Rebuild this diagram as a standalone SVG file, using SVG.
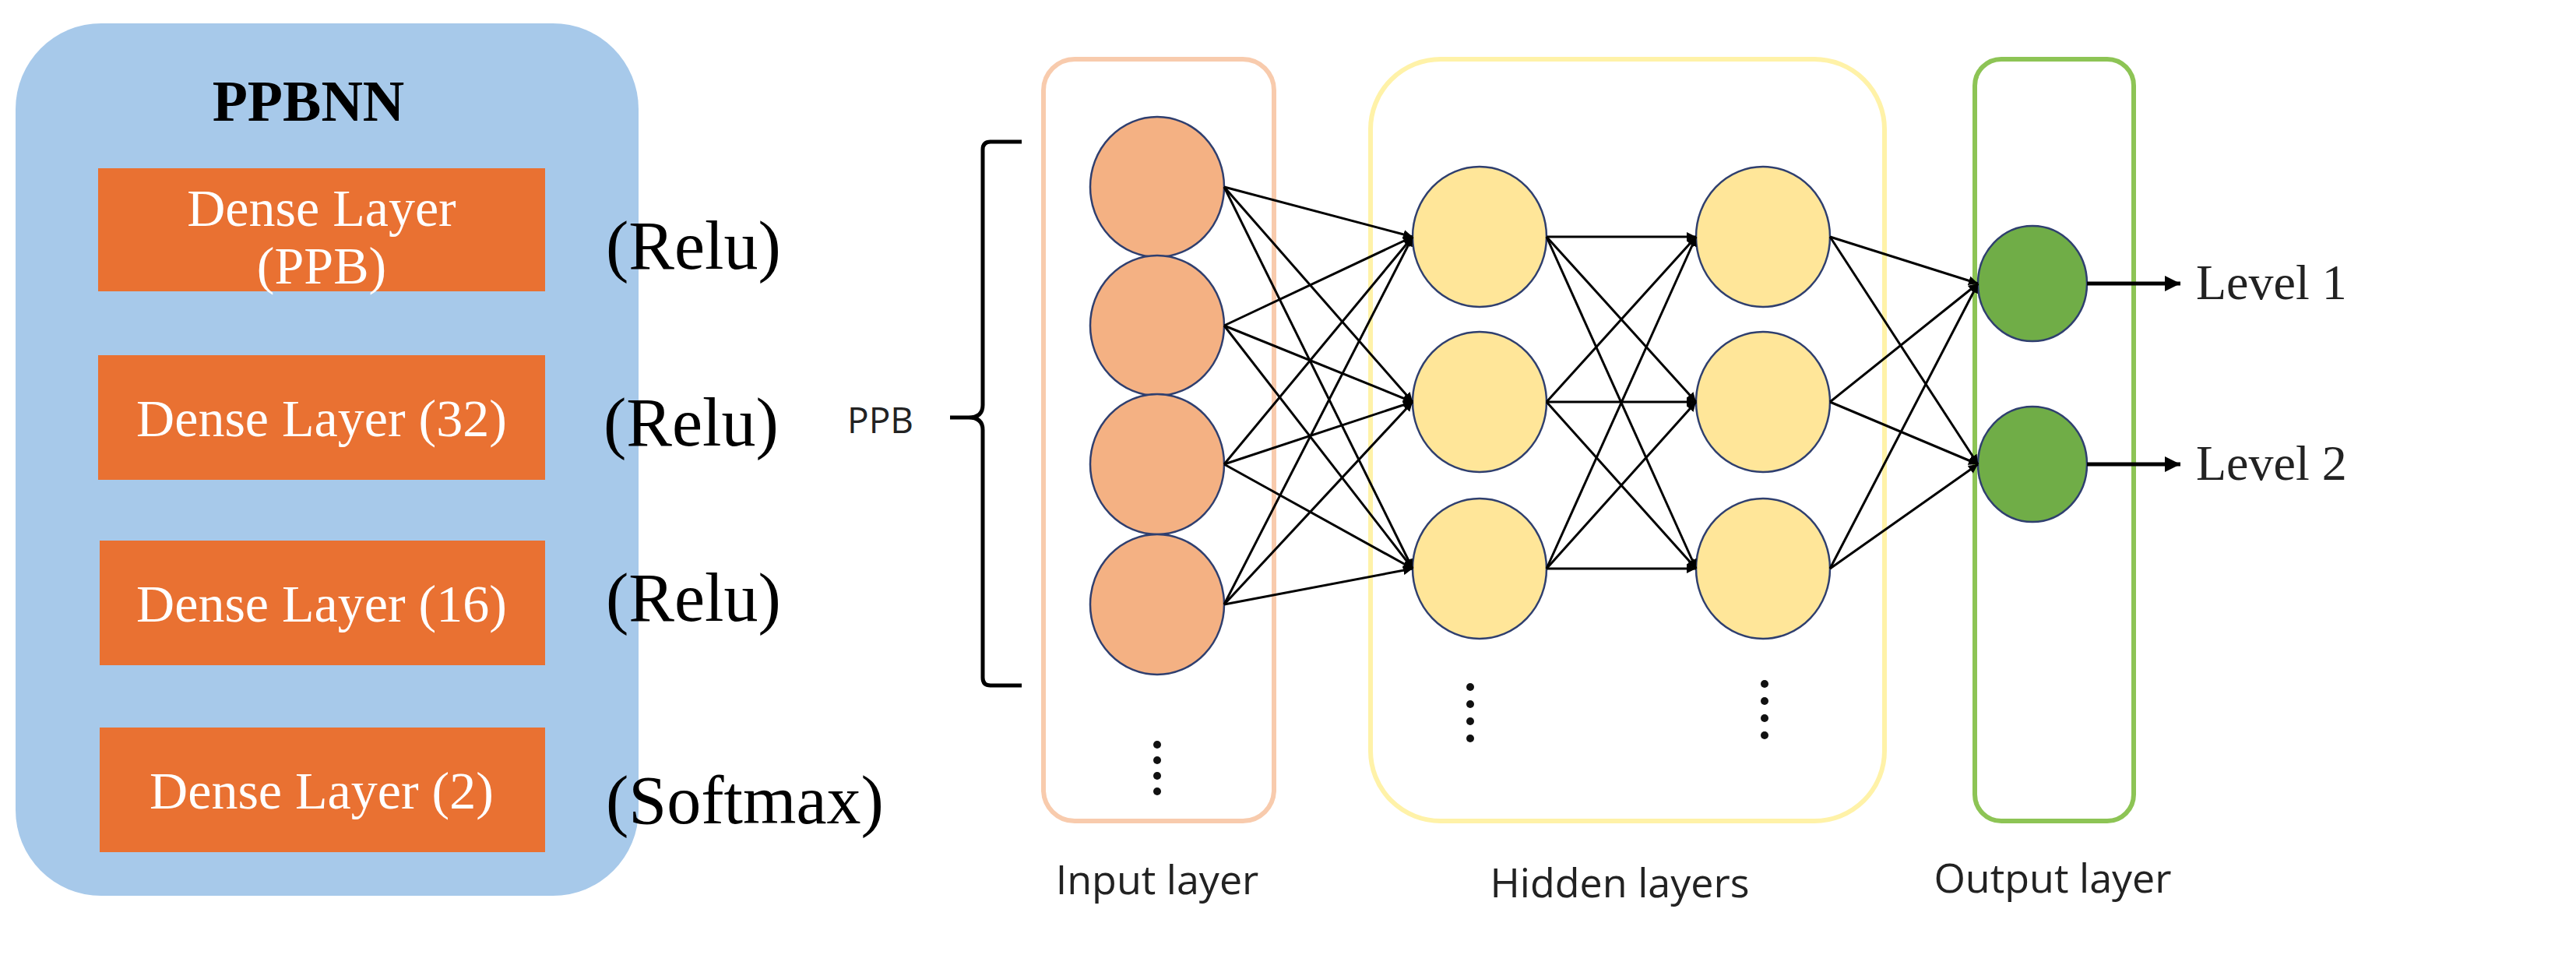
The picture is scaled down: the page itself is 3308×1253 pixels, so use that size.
<svg xmlns="http://www.w3.org/2000/svg" width="3308" height="1253" viewBox="0 0 3308 1253">
<defs>
<style>
.box{fill:#e97132}
.bt{font-family:"Liberation Serif",serif;font-size:68px;fill:#fff;text-anchor:middle}
.act{font-family:"Liberation Serif",serif;font-size:88px;fill:#000}
.lab{font-family:"Open Sans","Liberation Sans",sans-serif;font-size:52px;fill:#222;text-anchor:middle}
.lv{font-family:"Liberation Serif",serif;font-size:64px;fill:#222}
.in{fill:#f4b183;stroke:#2f3f6f;stroke-width:2.5}
.hd{fill:#ffe699;stroke:#2f3f6f;stroke-width:2.5}
.out{fill:#70ad47;stroke:#2f3f6f;stroke-width:2.5}
#edges line{stroke:#000;stroke-width:3;marker-end:url(#ah)}
.dot{fill:#111}
</style>
<marker id="ah" viewBox="0 0 10 10" refX="10" refY="5" markerWidth="4" markerHeight="4" orient="auto"><path d="M0,0L10,5L0,10z" fill="#000"/></marker>
</defs>
<rect width="3308" height="1253" fill="#fff"/>
<g id="ppbnn">
<rect x="20" y="30" width="800" height="1120" rx="110" fill="#a7c9ea"/>
<text x="396" y="155" font-family="Liberation Serif,serif" font-size="74" font-weight="bold" text-anchor="middle">PPBNN</text>
</g>
<g id="dense1"><rect class="box" x="126" y="216" width="574" height="158"/><text class="bt" x="413" y="290">Dense Layer</text><text class="bt" x="413" y="364">(PPB)</text></g>
<g id="dense2"><rect class="box" x="126" y="456" width="574" height="160"/><text class="bt" x="413" y="560">Dense Layer (32)</text></g>
<g id="dense3"><rect class="box" x="128" y="694" width="572" height="160"/><text class="bt" x="413" y="798">Dense Layer (16)</text></g>
<g id="dense4"><rect class="box" x="128" y="934" width="572" height="160"/><text class="bt" x="413" y="1038">Dense Layer (2)</text></g>
<g id="acts">
<text class="act" x="778" y="345">(Relu)</text>
<text class="act" x="775" y="572">(Relu)</text>
<text class="act" x="778" y="797">(Relu)</text>
<text class="act" x="778" y="1057">(Softmax)</text>
</g>
<g id="ppb">
<text x="1088" y="556" font-family="Open Sans,Liberation Sans,sans-serif" font-size="46" fill="#222">PPB</text>
<path d="M1312,182 H1272 Q1262,182 1262,192 V520 Q1262,536 1244,536 H1220 M1244,536 Q1262,536 1262,552 V870 Q1262,880 1272,880 H1312" fill="none" stroke="#000" stroke-width="5"/>
</g>
<g id="inputLayer">
<rect x="1340" y="76" width="296" height="978" rx="40" fill="none" stroke="#f8cbad" stroke-width="6"/>
<ellipse class="in" cx="1486" cy="240" rx="86" ry="90"/>
<ellipse class="in" cx="1486" cy="418" rx="86" ry="90"/>
<ellipse class="in" cx="1486" cy="596" rx="86" ry="90"/>
<ellipse class="in" cx="1486" cy="776" rx="86" ry="90"/>
<circle class="dot" cx="1486" cy="956" r="5"/><circle class="dot" cx="1486" cy="976" r="5"/><circle class="dot" cx="1486" cy="996" r="5"/><circle class="dot" cx="1486" cy="1016" r="5"/>
<text class="lab" x="1486" y="1148">Input layer</text>
</g>
<g id="hiddenLayers">
<rect x="1760" y="76" width="660" height="978" rx="90" fill="none" stroke="#fff2a8" stroke-width="6"/>
<ellipse class="hd" cx="1900" cy="304" rx="86" ry="90"/>
<ellipse class="hd" cx="1900" cy="516" rx="86" ry="90"/>
<ellipse class="hd" cx="1900" cy="730" rx="86" ry="90"/>
<ellipse class="hd" cx="2264" cy="304" rx="86" ry="90"/>
<ellipse class="hd" cx="2264" cy="516" rx="86" ry="90"/>
<ellipse class="hd" cx="2264" cy="730" rx="86" ry="90"/>
<circle class="dot" cx="1888" cy="882" r="5"/><circle class="dot" cx="1888" cy="904" r="5"/><circle class="dot" cx="1888" cy="926" r="5"/><circle class="dot" cx="1888" cy="948" r="5"/>
<circle class="dot" cx="2266" cy="878" r="5"/><circle class="dot" cx="2266" cy="900" r="5"/><circle class="dot" cx="2266" cy="922" r="5"/><circle class="dot" cx="2266" cy="944" r="5"/>
<text class="lab" x="2080" y="1152">Hidden layers</text>
</g>
<g id="outputLayer">
<rect x="2536" y="76" width="204" height="978" rx="34" fill="none" stroke="#8dc455" stroke-width="6"/>
<ellipse class="out" cx="2610" cy="364" rx="70" ry="74"/>
<ellipse class="out" cx="2610" cy="596" rx="70" ry="74"/>
<text class="lab" x="2636" y="1146">Output layer</text>
<text class="lv" x="2820" y="384">Level 1</text>
<text class="lv" x="2820" y="616">Level 2</text>
</g>
<g id="edges">
<line x1="1572" y1="240" x2="1814" y2="304"/><line x1="1572" y1="240" x2="1814" y2="516"/><line x1="1572" y1="240" x2="1814" y2="730"/>
<line x1="1572" y1="418" x2="1814" y2="304"/><line x1="1572" y1="418" x2="1814" y2="516"/><line x1="1572" y1="418" x2="1814" y2="730"/>
<line x1="1572" y1="596" x2="1814" y2="304"/><line x1="1572" y1="596" x2="1814" y2="516"/><line x1="1572" y1="596" x2="1814" y2="730"/>
<line x1="1572" y1="776" x2="1814" y2="304"/><line x1="1572" y1="776" x2="1814" y2="516"/><line x1="1572" y1="776" x2="1814" y2="730"/>
<line x1="1986" y1="304" x2="2178" y2="304"/><line x1="1986" y1="304" x2="2178" y2="516"/><line x1="1986" y1="304" x2="2178" y2="730"/>
<line x1="1986" y1="516" x2="2178" y2="304"/><line x1="1986" y1="516" x2="2178" y2="516"/><line x1="1986" y1="516" x2="2178" y2="730"/>
<line x1="1986" y1="730" x2="2178" y2="304"/><line x1="1986" y1="730" x2="2178" y2="516"/><line x1="1986" y1="730" x2="2178" y2="730"/>
<line x1="2350" y1="304" x2="2540" y2="364"/><line x1="2350" y1="304" x2="2540" y2="596"/>
<line x1="2350" y1="516" x2="2540" y2="364"/><line x1="2350" y1="516" x2="2540" y2="596"/>
<line x1="2350" y1="730" x2="2540" y2="364"/><line x1="2350" y1="730" x2="2540" y2="596"/>
<line x1="2680" y1="364" x2="2800" y2="364" style="stroke-width:5"/>
<line x1="2680" y1="596" x2="2800" y2="596" style="stroke-width:5"/>
</g>
</svg>
